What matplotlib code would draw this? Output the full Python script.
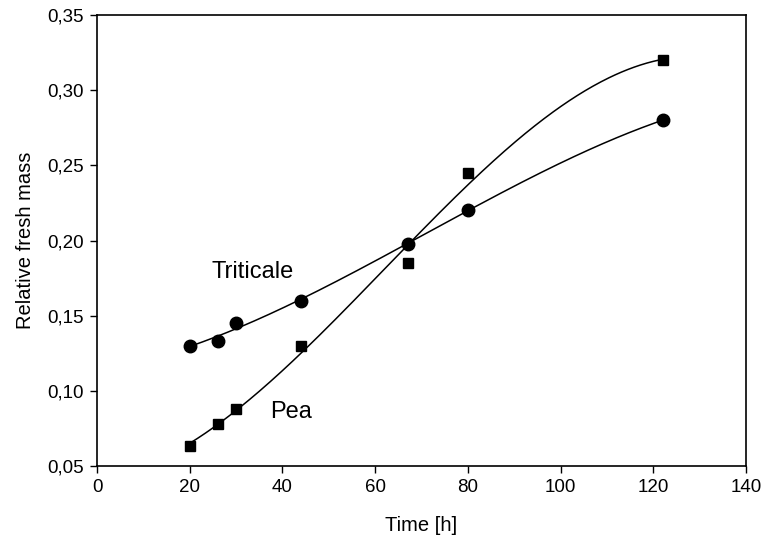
import numpy as np
import matplotlib
matplotlib.use("Agg")
import matplotlib.pyplot as plt
from matplotlib.ticker import FuncFormatter

plt.rcParams['font.family'] = ['Liberation Sans', 'DejaVu Sans']

time_h = [20, 26, 30, 44, 67, 80, 122]
triticale = [0.130, 0.133, 0.145, 0.160, 0.198, 0.220, 0.280]
pea = [0.063, 0.078, 0.088, 0.130, 0.185, 0.245, 0.320]

x_ticks = [0, 20, 40, 60, 80, 100, 120, 140]
y_ticks = [0.05, 0.10, 0.15, 0.20, 0.25, 0.30, 0.35]

fig = plt.figure(figsize=(7.62, 5.44), dpi=100)
ax = fig.add_axes([0.1273, 0.1434, 0.8517, 0.829])

xs = np.linspace(min(time_h), max(time_h), 300)
for vals in (triticale, pea):
    coef = np.polyfit(time_h, vals, 3)
    ax.plot(xs, np.polyval(coef, xs), color='black', lw=1.1)

ax.plot(time_h, triticale, 'o', color='black', ms=9.0, zorder=3)
ax.plot(time_h, pea, 's', color='black', ms=7.6, zorder=3)

ax.text(24.7, 0.1749, 'Triticale', fontsize=17, ha='left', va='baseline')
ax.text(37.3, 0.0817, 'Pea', fontsize=17, ha='left', va='baseline')

ax.set_xlim(0, 140)
ax.set_ylim(0.05, 0.35)
ax.set_xticks(x_ticks)
ax.set_yticks(y_ticks)
ax.yaxis.set_major_formatter(FuncFormatter(lambda v, p: f"{v:.2f}".replace('.', ',')))
ax.tick_params(direction='out', length=5, width=1, labelsize=13.5, pad=4.5)
for s in ax.spines.values():
    s.set_linewidth(1.2)

ax.set_xlabel('Time [h]', fontsize=14.5, labelpad=14)
ax.set_ylabel('Relative fresh mass', fontsize=14.5, labelpad=9)

fig.savefig('out.png', dpi=100)
